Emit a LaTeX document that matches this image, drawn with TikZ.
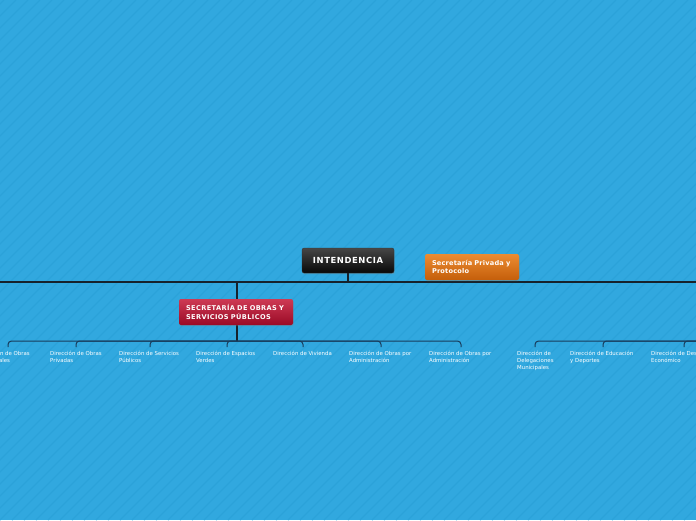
\documentclass[tikz,border=0pt]{standalone}
\usepackage{fontspec}
\setmainfont{DejaVu Sans}
\usetikzlibrary{shadows}
\definecolor{bgblue}{RGB}{49,168,223}
\definecolor{stripec}{RGB}{43,162,217}
\definecolor{busc}{RGB}{22,34,44}
\definecolor{branchc}{RGB}{24,60,92}
\definecolor{blktop}{RGB}{70,70,70}
\definecolor{blkbot}{RGB}{8,8,8}
\definecolor{ortop}{RGB}{236,140,50}
\definecolor{orbot}{RGB}{196,94,10}
\definecolor{rdtop}{RGB}{206,58,84}
\definecolor{rdbot}{RGB}{154,10,38}
\tikzset{
  topbox/.style={rounded corners=2pt, inner ysep=0pt, text=white,
     drop shadow={shadow xshift=0.6pt, shadow yshift=-1.2pt, opacity=0.35}},
  blackbox/.style={topbox, top color=blktop, bottom color=blkbot, draw=black!80, line width=0.3pt},
  orangebox/.style={topbox, top color=ortop, bottom color=orbot, inner xsep=5pt, align=left},
  redbox/.style={topbox, top color=rdtop, bottom color=rdbot, inner xsep=7pt, align=left},
  childtext/.style={anchor=north west, inner sep=0pt, text=white, align=left,
     font=\fontsize{5.4}{7}\selectfont},
  busline/.style={draw=busc, line width=1.8pt},
  stemline/.style={draw=busc, line width=1.4pt},
  branchline/.style={draw=branchc, line width=1pt, rounded corners=3.5pt},
  stripe/.style={draw=stripec, line width=1.2pt}
}
\begin{document}
\begin{tikzpicture}[x=1pt,y=-1pt]
\useasboundingbox (0,0) rectangle (696,520);
\fill[bgblue] (0,0) rectangle (696,520);
\begin{scope}
\clip (0,0) rectangle (696,520);
\foreach \i in {-50,...,60} \draw[stripe] (\i*12,520) -- ++(520,-520);
\end{scope}

% bus coordinates
\coordinate (busL) at (-5,282);
\coordinate (busR) at (701,282);
\draw[busline] (busL) -- (busR);

% main nodes
\node[blackbox, minimum width=92pt, minimum height=25pt,
  font=\fontsize{8.4}{10}\selectfont\addfontfeature{LetterSpace=7}\bfseries] (int) at (348,260.5)
  {INTENDENCIA};
\draw[stemline] (int.south) -- (int.south |- busL);

\node[orangebox, minimum height=26pt, text width=84pt,
  font=\fontsize{6.6}{8.4}\selectfont\addfontfeature{LetterSpace=3}\bfseries] (sec) at (472,267)
  {\hspace*{2pt}Secretaría Privada y\\\hspace*{2pt}Protocolo};

% left branch
\coordinate (lj) at (237,341);
\draw[stemline] (237,282) -- (lj);
\node[redbox, minimum height=26pt, text width=100pt,
  font=\fontsize{6.6}{8.6}\selectfont\addfontfeature{LetterSpace=6}\bfseries] (obr) at (236,312)
  {SECRETARÍA DE OBRAS Y\\SERVICIOS PÚBLICOS};

\node[childtext] (d1) at (-22,350.5) {Dirección de Obras\\Municipales};
\node[childtext] (d2) at (50,350.5) {Dirección de Obras\\Privadas};
\node[childtext] (d3) at (119,350.5) {Dirección de Servicios\\Públicos};
\node[childtext] (d4) at (196,350.5) {Dirección de Espacios\\Verdes};
\node[childtext] (d5) at (273,350.5) {Dirección de Vivienda};
\node[childtext] (d6) at (349,350.5) {Dirección de Obras por\\Administración};
\node[childtext] (d7) at (429,350.5) {Dirección de Obras por\\Administración};

\coordinate (t1) at (8,347);
\coordinate (t2) at (76,347);
\coordinate (t3) at (150,347);
\coordinate (t4) at (227,347);
\coordinate (t5) at (303,347);
\coordinate (t6) at (381,347);
\coordinate (t7) at (461,347);
\foreach \t in {t1,t2,t3,t4,t5,t6,t7}
  \draw[branchline] (lj) -| (\t);

% right branch (parent off the picture)
\coordinate (rj) at (760,341);
\node[childtext] (e1) at (517,350.5) {Dirección de\\Delegaciones\\Municipales};
\node[childtext] (e2) at (570,350.5) {Dirección de Educación\\y Deportes};
\node[childtext] (e3) at (651,350.5) {Dirección de Desarrollo\\Económico};
\coordinate (u1) at (535,347);
\coordinate (u2) at (603,347);
\coordinate (u3) at (684,347);
\foreach \t in {u1,u2,u3}
  \draw[branchline] (rj) -| (\t);
\end{tikzpicture}
\end{document}
